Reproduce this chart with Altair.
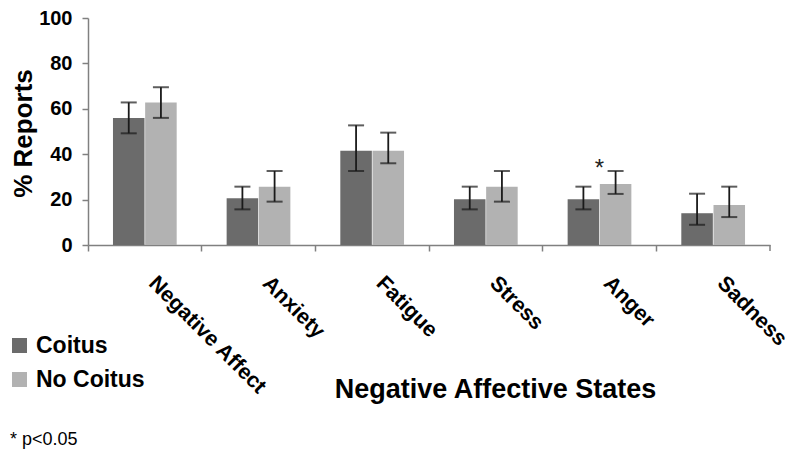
import altair as alt
import pandas as pd

categories = ["Negative Affect", "Anxiety", "Fatigue", "Stress", "Anger", "Sadness"]
groups = ["Coitus", "No Coitus"]
coitus = [56.0, 20.6, 41.5, 20.1, 20.1, 14.0]
coitus_lo = [49.2, 15.7, 32.6, 15.7, 15.7, 8.9]
coitus_hi = [62.8, 25.7, 52.7, 25.7, 25.7, 22.6]
nocoitus = [62.8, 25.7, 41.5, 25.7, 26.9, 17.6]
nocoitus_lo = [56.0, 19.1, 36.0, 19.1, 22.5, 12.3]
nocoitus_hi = [69.5, 32.6, 49.5, 32.6, 32.6, 25.7]
significance = ["", "", "", "", "*", ""]
footnote = ["* p<0.05"]

rows = []
for i, c in enumerate(categories):
    rows.append({"cat": c, "group": groups[0], "value": coitus[i], "lo": coitus_lo[i], "hi": coitus_hi[i]})
    rows.append({"cat": c, "group": groups[1], "value": nocoitus[i], "lo": nocoitus_lo[i], "hi": nocoitus_hi[i]})
df = pd.DataFrame(rows)

sig_df = pd.DataFrame({
    "cat": categories,
    "sig": significance,
    "top": [max(a, b) for a, b in zip(coitus_hi, nocoitus_hi)],
})
sig_df = sig_df[sig_df["sig"] != ""]

FONT = "Liberation Sans"
AX = "#808080"

x_enc = alt.X(
    "cat:N",
    sort=categories,
    scale=alt.Scale(paddingInner=0, paddingOuter=0),
    axis=alt.Axis(
        title="Negative Affective States",
        titleFont=FONT, titleFontSize=27, titleFontWeight="bold", titleColor="black",
        titleX=407, titleY=152, titleBaseline="alphabetic", titleAlign="center", titleAnchor="start",
        labelFont=FONT, labelFontSize=21.5, labelFontWeight="bold", labelColor="black",
        labelAngle=45, labelAlign="left", labelBaseline="top",
        labelOffset=15, labelPadding=21, labelOverlap=False, labelLimit=0, labelBound=False,
        bandPosition=0, tickSize=6, tickColor=AX, tickWidth=1.5,
        domainColor=AX, domainWidth=1.5,
    ),
)
xo_enc = alt.XOffset("group:N", sort=groups, scale=alt.Scale(paddingOuter=0.776, paddingInner=0.02))
y_scale = alt.Scale(domain=[0, 100], nice=False)

base = alt.Chart(df)

bars = base.mark_bar().encode(
    x=x_enc,
    xOffset=xo_enc,
    y=alt.Y(
        "value:Q",
        scale=y_scale,
        axis=alt.Axis(
            title="% Reports", values=[0, 20, 40, 60, 80, 100], grid=False,
            titleFont=FONT, titleFontSize=26, titleFontWeight="bold", titleColor="black",
            titleX=-57, titleY=115, titleAngle=-90, titleAlign="center", titleBaseline="alphabetic",
            labelFont=FONT, labelFontSize=20, labelFontWeight="bold", labelColor="black",
            labelPadding=10, tickSize=6, tickColor=AX, tickWidth=1.5,
            domainColor=AX, domainWidth=1.5,
        ),
    ),
    color=alt.Color(
        "group:N",
        sort=groups,
        scale=alt.Scale(domain=groups, range=["#6b6b6b", "#b2b2b2"]),
        legend=alt.Legend(
            title=None, orient="none", legendX=-80, legendY=316,
            symbolType="square", symbolSize=225, symbolStrokeWidth=0,
            labelFont=FONT, labelFontSize=23, labelFontWeight="bold", labelColor="black",
            labelOffset=5, rowPadding=10, padding=0,
        ),
    ),
)

err = base.mark_rule(color="#1a1a1a", strokeWidth=1.8).encode(
    x=alt.X("cat:N", sort=categories),
    xOffset=alt.XOffset("group:N", sort=groups),
    y=alt.Y("lo:Q", scale=y_scale),
    y2="hi:Q",
)
cap_lo = base.mark_tick(color="#1a1a1a", thickness=2, size=16, orient="horizontal").encode(
    x=alt.X("cat:N", sort=categories),
    xOffset=alt.XOffset("group:N", sort=groups),
    y=alt.Y("lo:Q", scale=y_scale),
)
cap_hi = base.mark_tick(color="#1a1a1a", thickness=2, size=16, orient="horizontal").encode(
    x=alt.X("cat:N", sort=categories),
    xOffset=alt.XOffset("group:N", sort=groups),
    y=alt.Y("hi:Q", scale=y_scale),
)

stars = alt.Chart(sig_df).mark_text(
    font=FONT, fontSize=24, color="#222222", baseline="alphabetic", dy=5,
).encode(
    x=alt.X("cat:N", sort=categories),
    y=alt.Y("top:Q", scale=y_scale),
    text="sig:N",
)

last_tick = alt.Chart(pd.DataFrame({"t": [0]})).mark_rule(color=AX, strokeWidth=1.5).encode(
    x=alt.value(682), y=alt.value(227), y2=alt.value(233)
)

note = alt.Chart(pd.DataFrame({"t": footnote})).mark_text(
    font=FONT, fontSize=18, color="black", align="left", baseline="middle",
).encode(x=alt.value(-78), y=alt.value(422), text="t:N")

chart = alt.layer(bars, err, cap_lo, cap_hi, stars, last_tick, note).properties(
    width=682, height=227,
    autosize=alt.AutoSizeParams(type="none"),
    padding={"left": 80, "top": 10, "right": 22, "bottom": 205},
    background="white",
).configure_view(stroke=None)

chart.save("out.html", embed_options={"renderer": "svg", "actions": False})
